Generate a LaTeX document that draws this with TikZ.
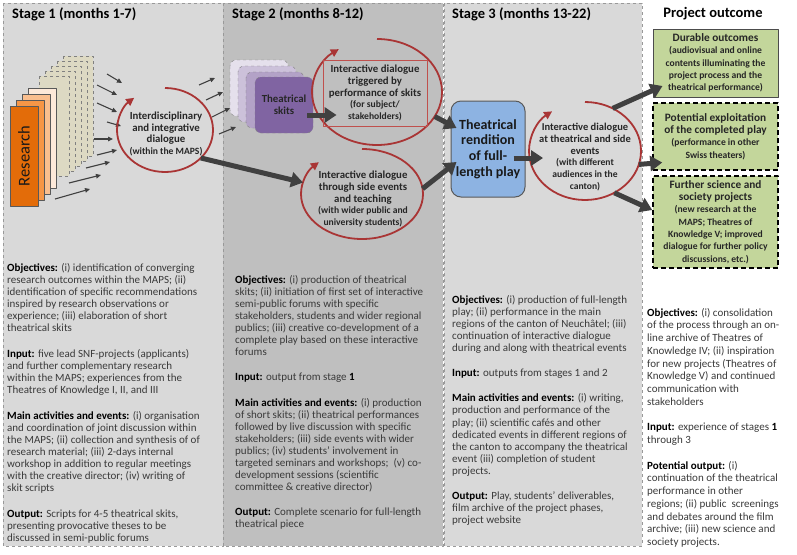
\documentclass[tikz,border=0pt]{standalone}
\usepackage{fontspec}
\setmainfont{Carlito}
\usetikzlibrary{arrows.meta,shapes.geometric}
\definecolor{panelA}{HTML}{D9D9D9}
\definecolor{panelB}{HTML}{BFBFBF}
\definecolor{ringred}{HTML}{A93535}
\definecolor{trigred}{HTML}{C0504D}
\definecolor{arrgray}{HTML}{404040}
\definecolor{bodygray}{HTML}{3A3A3A}
\definecolor{beige}{HTML}{DDD9C3}
\definecolor{resA}{HTML}{E36C09}
\definecolor{resB}{HTML}{F79646}
\definecolor{resC}{HTML}{FABF8F}
\definecolor{resD}{HTML}{FDE9D9}
\definecolor{skA}{HTML}{E5E0EC}
\definecolor{skB}{HTML}{CCC1DA}
\definecolor{skC}{HTML}{B3A2C7}
\definecolor{skD}{HTML}{8064A2}
\definecolor{rendblue}{HTML}{8DB3E2}
\definecolor{outgreen}{HTML}{C3D69B}
\newcommand{\hdr}[1]{{\color{black}\bfseries #1}}
\newcommand{\smtx}[1]{{\fontsize{9.6}{10.8}\selectfont #1}}
\begin{document}
\begin{tikzpicture}[x=1pt,y=-1pt,line join=round,
  panel/.style={fill=panelA,draw=gray!80,dashed,line width=0.6pt},
  ttl/.style={font=\fontsize{14.5}{16}\selectfont\bfseries,anchor=west,inner sep=0pt},
  body/.style={font=\fontsize{11}{12.1}\selectfont,text=bodygray,align=left,anchor=north west,inner sep=0pt},
  hole/.style={ellipse,inner sep=0pt,outer sep=0pt},
  ring/.style={draw=ringred,line width=1.8pt,-{Triangle[length=8pt,width=8pt]}},
  dtext/.style={font=\fontsize{10.8}{11.7}\selectfont\bfseries,align=center,text=black!85},
  arr/.style={draw=arrgray,line width=1.1pt,-{Triangle[length=5pt,width=4.5pt]}},
  bigarr/.style={draw=arrgray,line width=5pt,-{Triangle[length=12pt,width=15pt]}},
  outbox/.style={fill=outgreen,minimum width=125pt,align=center,inner sep=2pt,
    font=\fontsize{11.3}{12.3}\selectfont\bfseries,text=black!85}]
\useasboundingbox (0,0) rectangle (797,554);
\fill[white] (0,0) rectangle (797,554);
\draw[panel] (3,3) rectangle (223,546);
\draw[panel,fill=panelB] (223,3) rectangle (443,546);
\draw[panel] (444,3) rectangle (642,546);
\node[ttl] (s1) at (12,14) {Stage 1 (months 1-7)};
\node[ttl] (s2) at (232,14) {Stage 2 (months 8-12)};
\node[ttl] (s3) at (452,14) {Stage 3 (months 13-22)};
\node[ttl,anchor=center] (po) at (713,14) {Project outcome};
% research stack
\foreach \k in {4,...,0}
  \draw[dashed,draw=gray,fill=beige] (39+6*\k,76-5*\k) rectangle ++(30,100);
\foreach \k/\c in {3/resD,2/resC,1/resB}
  \draw[draw=gray!70!black,line width=0.9pt,fill=\c] (10+6*\k,106-6*\k) rectangle ++(28,100);
\node[draw=gray!70!black,line width=0.9pt,fill=resA,minimum width=100pt,minimum height=28pt,
  rotate=90,font=\fontsize{16.5}{18}\selectfont,text=black!90] (res) at (24,156) {Research};
\foreach \a/\b/\c/\d in {107/74/122/83,97/85/117/95,97/103/117/112,107/122/121/126,94/139/113/139,
  97/155/117/150,86/168/110/162,69/183/101/175,55/199/90/189}
  \draw[arr] (\a,\b) -- (\c,\d);
% stage 1 dialogue
\node[hole,minimum width=96pt,minimum height=84pt] (d1) at (165,130) {};
\draw[ring] (d1.north) arc[start angle=90,end angle=-230,x radius=48pt,y radius=42pt];
\node[dtext] (d1t) at (166,134) {Interdisciplinary\\and integrative\\dialogue\\\smtx{(within the MAPS)}};
% skits
\foreach \k/\c in {0/skA,1/skB,2/skC}
  \draw[dashed,draw=gray,fill=\c,rounded corners=6pt] (230+8*\k,60+6*\k) rectangle ++(58,56);
\node[dashed,draw=gray,fill=skD,rounded corners=6pt,minimum width=58pt,minimum height=56pt,
  align=center,font=\fontsize{10.8}{12}\selectfont\bfseries,text=black!85] (skits) at (284,105) {Theatrical\\skits};
\foreach \a/\b/\c/\d in {199/85/215/78,206/100/223/92,212/117/230/108,219/134/236/127}
  \draw[arr] (\a,\b) -- (\c,\d);
% stage 2 dialogues
\node[hole,minimum width=130pt,minimum height=106pt] (d2) at (377,92) {};
\draw[ring] (d2.north) arc[start angle=90,end angle=-234,x radius=65pt,y radius=53pt];
\node[draw=trigred,line width=0.8pt,minimum width=104pt,minimum height=66pt,dtext,inner sep=1pt] (trig) at (375,93)
  {Interactive dialogue\\triggered by\\performance of skits\\\smtx{(for subject/}\\\smtx{stakeholders)}};
\node[hole,minimum width=122pt,minimum height=90pt] (d3) at (362,194) {};
\draw[ring] (d3.north) arc[start angle=90,end angle=-225,x radius=61pt,y radius=45pt];
\node[dtext] (d3t) at (363,199) {Interactive dialogue\\through side events\\and teaching\\
  \smtx{(with wider public and}\\\smtx{university students)}};
% stage 3
\node[draw=gray!70!black,line width=1pt,fill=rendblue,rounded corners=10pt,minimum width=74pt,
  minimum height=96pt,inner sep=2pt,align=center,font=\fontsize{14}{15.7}\selectfont\bfseries,text=black!90]
  (rend) at (488,149) {Theatrical\\rendition\\of full-\\length play};
\node[hole,minimum width=112pt,minimum height=98pt] (d4) at (585,151) {};
\draw[ring] (d4.north) arc[start angle=90,end angle=-234,x radius=56pt,y radius=49pt];
\node[dtext,font=\fontsize{10.5}{11.7}\selectfont\bfseries] (d4t) at (585,157)
  {Interactive dialogue\\at theatrical and side\\events\\\smtx{(with different}\\\smtx{audiences in the}\\\smtx{canton)}};
% outcomes
\node[outbox,draw=gray!60!black,line width=1pt,minimum height=68pt] (dur) at (715.5,63)
  {Durable outcomes\\\smtx{(audiovisual and online}\\\smtx{contents illuminating the}\\
  \smtx{project process and the}\\\smtx{theatrical performance)}};
\node[outbox,draw=black,line width=1.6pt,dash pattern=on 5pt off 3pt,minimum height=67pt] (pot) at (715.5,136.5)
  {Potential exploitation\\of the completed play\\\smtx{(performance in other}\\\smtx{Swiss theaters)}};
\node[outbox,draw=black,line width=1.6pt,dash pattern=on 5pt off 3pt,minimum height=92pt] (fur) at (715.5,222)
  {Further science and\\society projects\\\smtx{(new research at the}\\\smtx{MAPS; Theatres of}\\
  \smtx{Knowledge V; improved}\\\smtx{dialogue for further policy}\\\smtx{discussions, etc.)}};
% thick connectors
\draw[bigarr] (d1.-38) -- (d3.169);
\draw[bigarr] ([shift={(-6pt,-10pt)}]skits.east) -- ([shift={(14pt,-22pt)}]trig.west);
\draw[bigarr] (d2.-23) -- ([shift={(6pt,21pt)}]rend.west);
\draw[bigarr] (d3.5) -- ([shift={(6pt,-13pt)}]rend.west);
\draw[bigarr] ([shift={(-12pt,-9pt)}]rend.east) -- ([shift={(14pt,-7pt)}]d4.west);
\draw[bigarr] (d4.57) -- ([shift={(10pt,-23pt)}]dur.west);
\draw[bigarr] (d4.-14) -- ([shift={(10pt,-26pt)}]pot.west);
\draw[bigarr] (d4.-55) -- ([shift={(0pt,12pt)}]fur.west);
% text blocks
\node[body] (t1) at (7,263) {\hdr{Objectives:} (i) identification of converging\\research outcomes within the MAPS; (ii)\\
  identification of specific recommendations\\inspired by research observations or\\experience; (iii) elaboration of short\\
  theatrical skits\\[13.5pt]
  \hdr{Input:} five lead SNF-projects (applicants)\\and further complementary research\\within the MAPS; experiences from the\\
  Theatres of Knowledge I, II, and III\\[13.5pt]
  \hdr{Main activities and events:} (i) organisation\\and coordination of joint discussion within\\
  the MAPS; (ii) collection and synthesis of of\\research material; (iii) 2-days internal\\
  workshop in addition to regular meetings\\with the creative director; (iv) writing of\\skit scripts\\[13.5pt]
  \hdr{Output:} Scripts for 4-5 theatrical skits,\\presenting provocative theses to be\\discussed in semi-public forums};
\node[body] (t2) at (235,275) {\hdr{Objectives:} (i) production of theatrical\\skits; (ii) initiation of first set of interactive\\
  semi-public forums with specific\\stakeholders, students and wider regional\\publics; (iii) creative co-development of a\\
  complete play based on these interactive\\forums\\[13pt]
  \hdr{Input:} output from stage \hdr{1}\\[13pt]
  \hdr{Main activities and events:} (i) production\\of short skits; (ii) theatrical performances\\
  followed by live discussion with specific\\stakeholders; (iii) side events with wider\\
  publics; (iv) students’ involvement in\\targeted seminars and workshops;~ (v) co-\\
  development sessions (scientific\\committee \& creative director)\\[13pt]
  \hdr{Output:} Complete scenario for full-length\\theatrical piece};
\node[body] (t3) at (452,295) {\hdr{Objectives:} (i) production of full-length\\play; (ii) performance in the main\\
  regions of the canton of Neuchâtel; (iii)\\continuation of interactive dialogue\\during and along with theatrical events\\[13pt]
  \hdr{Input:} outputs from stages 1 and 2\\[13pt]
  \hdr{Main activities and events:} (i) writing,\\production and performance of the\\
  play; (ii) scientific cafés and other\\dedicated events in different regions of\\
  the canton to accompany the theatrical\\event (iii) completion of student\\projects.\\[13pt]
  \hdr{Output:} Play, students’ deliverables,\\film archive of the project phases,\\project website};
\node[body,font=\fontsize{11}{12.7}\selectfont] (t4) at (647,308) {\hdr{Objectives:} (i) consolidation\\of the process through an on-\\
  line archive of Theatres of\\Knowledge IV; (ii) inspiration\\for new projects (Theatres of\\
  Knowledge V) and continued\\communication with\\stakeholders\\[13pt]
  \hdr{Input:} experience of stages \hdr{1}\\through 3\\[13pt]
  \hdr{Potential output:} (i)\\continuation of the theatrical\\performance in other\\
  regions; (ii) public~ screenings\\and debates around the film\\archive; (iii) new science and\\society projects.};
\end{tikzpicture}
\end{document}
